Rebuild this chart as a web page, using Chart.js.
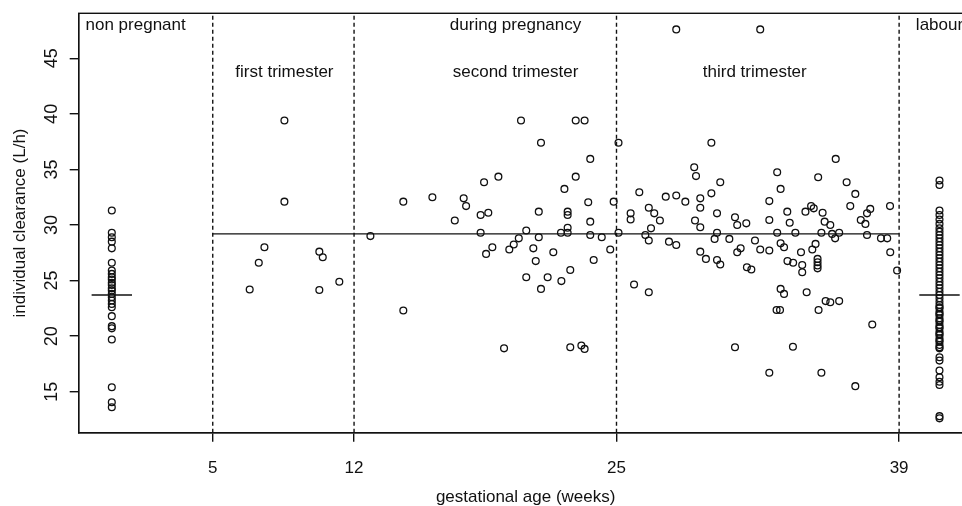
<!DOCTYPE html>
<html><head><meta charset="utf-8">
<script src="https://cdn.jsdelivr.net/npm/chart.js@4"></script>
<style>
html,body{margin:0;padding:0;overflow:hidden;background:#fff;width:962px;height:506px}
#wrap{position:absolute;left:0;top:0;width:1000px;height:506px}
</style></head><body>
<div id="wrap"><canvas id="c" width="1000" height="506"></canvas></div>
<script>
// ---- data ----
const xTicks = [5, 12, 25, 39];
const yTicks = [15, 20, 25, 30, 35, 40, 45];
const xRange = [-1.64, 42.64];
const yRange = [11.31, 49.05];
const periodBoundaries = [5, 12, 25, 39];

const nonPregnantWeek = 0;
const nonPregnantClearance = [31.3, 29.3, 28.9, 28.5, 27.9, 26.6, 25.9, 25.6, 25.3, 25.1, 24.8, 24.6, 24.3, 24.1, 23.8, 23.5, 23.2, 22.9, 22.6, 21.8, 20.9, 20.7, 19.7, 15.4, 14.05, 13.6];
const nonPregnantMean = 23.7;

const labourWeek = 41;
const labourClearance = [34.0, 33.6, 31.3, 30.9, 30.5, 30.1, 29.7, 29.4, 29.1, 28.8, 28.5, 28.2, 27.9, 27.6, 27.3, 27.0, 26.7, 26.4, 26.1, 25.8, 25.5, 25.2, 24.9, 24.6, 24.3, 24.0, 23.7, 23.4, 23.1, 22.8, 22.6, 22.5, 22.2, 22.0, 21.9, 21.6, 21.4, 21.3, 21.0, 20.8, 20.7, 20.4, 20.2, 20.1, 19.8, 19.6, 19.5, 19.2, 19.0, 18.9, 18.1, 17.8, 16.9, 16.3, 15.9, 15.6, 12.8, 12.6];
const labourMean = 23.7;

const pregnancyWeeks = [
  8.55, 8.55, 7.56, 7.28, 6.83, 10.28, 10.45, 11.27, 10.28,
  12.81, 14.44, 14.44, 15.88, 16.99, 17.43, 17.55, 18.27, 18.27, 18.44, 18.65, 18.54, 19.15, 18.85, 20.27, 21.26, 19.43, 20.53, 20.16, 19.91, 19.69, 21.15, 21.15, 20.88, 21.0, 21.87, 20.53, 21.59, 21.26, 22.27, 22.71, 22.25, 22.58, 22.58, 22.58, 22.58, 22.42, 22.98, 22.98, 23.42, 23.7, 23.6, 23.7, 23.7, 24.27, 24.69, 23.87, 22.71, 23.26, 23.42, 24.86,
  25.1, 25.1, 27.96, 32.12, 29.7, 28.85, 28.94, 30.14, 26.13, 27.44, 27.96, 28.41, 29.15, 29.7, 25.7, 25.7, 26.6, 26.87, 27.15, 26.71, 29.15, 28.89, 29.15, 29.98, 30.87, 30.98, 31.43, 26.43, 26.6, 27.6, 27.96, 29.86, 29.98, 30.59, 31.86, 32.12, 29.15, 29.43, 29.98, 30.14, 30.98, 31.15, 31.46, 31.68, 25.87, 26.6, 30.87,
  35.86, 32.96, 34.99, 33.13, 36.4, 36.83, 32.57, 36.58, 38.55, 33.46, 34.36, 34.64, 34.77, 35.21, 37.57, 37.41, 32.57, 33.58, 35.31, 35.59, 37.1, 37.33, 32.96, 33.86, 35.15, 35.68, 36.03, 35.83, 37.41, 38.1, 38.41, 32.57, 33.13, 33.3, 34.86, 34.7, 34.14, 38.56, 33.47, 33.75, 34.2, 34.2, 34.96, 34.96, 34.96, 34.96, 38.9, 33.13, 33.3, 34.42, 35.36, 35.59, 36.03, 35.01, 32.93, 33.1, 37.67, 33.74, 32.57, 35.15, 36.83
];
const pregnancyClearance = [
  39.4, 32.1, 28.0, 26.6, 24.2, 27.6, 27.1, 24.9, 24.15,
  29.0, 32.1, 22.3, 32.5, 30.4, 32.4, 31.7, 30.9, 29.3, 33.85, 31.1, 27.4, 34.35, 28.0, 39.4, 37.4, 18.9, 29.5, 28.8, 28.25, 27.8, 31.2, 28.9, 27.9, 26.75, 27.55, 25.3, 25.3, 24.25, 24.95, 25.95, 29.3, 31.2, 30.9, 29.75, 29.3, 33.25, 34.35, 39.4, 39.4, 35.95, 32.05, 30.3, 29.1, 28.9, 27.8, 26.85, 19.0, 19.15, 18.85, 32.1,
  37.4, 29.3, 47.6, 47.6, 37.4, 35.2, 34.4, 33.85, 32.95, 32.55, 32.65, 32.1, 32.4, 32.85, 31.05, 30.5, 31.55, 31.05, 30.4, 29.7, 31.55, 30.4, 29.8, 31.05, 30.7, 30.0, 30.15, 29.1, 28.6, 28.5, 28.2, 28.75, 29.3, 28.75, 28.6, 27.8, 27.6, 26.95, 26.85, 26.45, 27.55, 27.9, 26.2, 26.0, 24.65, 23.95, 19.0,
  35.95, 34.75, 34.3, 33.25, 33.85, 32.8, 32.15, 31.7, 31.7, 31.2, 31.2, 31.7, 31.5, 31.1, 31.45, 31.05, 30.45, 30.2, 30.3, 30.0, 30.45, 30.1, 29.3, 29.3, 29.3, 29.2, 29.3, 28.8, 29.1, 28.8, 28.8, 27.7, 28.35, 28.0, 28.3, 27.8, 27.55, 27.55, 26.75, 26.6, 26.4, 25.75, 26.95, 26.65, 26.35, 26.1, 25.9, 24.25, 23.8, 23.95, 23.15, 23.05, 23.15, 22.35, 22.35, 22.35, 21.05, 19.05, 16.7, 16.7, 15.5
];
const pregnancyMean = 29.2;

const periodLabels = ["non pregnant", "during pregnancy", "labour"];
const periodLabelWeek = [1.18, 20, 41];
const trimesterLabels = ["first trimester", "second trimester", "third trimester"];
const trimesterLabelWeek = [8.55, 20, 31.85];

// ---- chart ----
const FONT = '"Liberation Sans", Arial, sans-serif';
const points = [];
nonPregnantClearance.forEach(v => points.push({x: nonPregnantWeek, y: v}));
pregnancyWeeks.forEach((w, i) => points.push({x: w, y: pregnancyClearance[i]}));
labourClearance.forEach(v => points.push({x: labourWeek, y: v}));

const lineStyle = {showLine: true, pointRadius: 0, borderColor: '#111', borderWidth: 1.4, fill: false};
const datasets = [];
periodBoundaries.forEach(b => datasets.push(Object.assign({
  data: [{x: b, y: yRange[0]}, {x: b, y: yRange[1]}], borderDash: [4, 3]
}, lineStyle)));
datasets.push(Object.assign({data: [{x: periodBoundaries[0], y: pregnancyMean}, {x: periodBoundaries[3], y: pregnancyMean}]}, lineStyle));
datasets.push(Object.assign({data: [{x: nonPregnantWeek - 1, y: nonPregnantMean}, {x: nonPregnantWeek + 1, y: nonPregnantMean}]}, lineStyle));
datasets.push(Object.assign({data: [{x: labourWeek - 1, y: labourMean}, {x: labourWeek + 1, y: labourMean}]}, lineStyle));
datasets.push({
  data: points, pointStyle: 'circle', pointRadius: 3.4, pointBorderWidth: 1.3,
  pointBorderColor: '#111', pointBackgroundColor: 'rgba(0,0,0,0)', showLine: false
});

const framePlugin = {
  id: 'frame',
  afterDraw(chart) {
    const {ctx, chartArea: a, scales: {x, y}} = chart;
    ctx.save();
    ctx.strokeStyle = '#111';
    ctx.lineWidth = 1.4;
    ctx.strokeRect(a.left, a.top, a.right - a.left, a.bottom - a.top);
    ctx.fillStyle = '#111';
    ctx.font = '17px ' + FONT;
    ctx.textAlign = 'center';
    ctx.textBaseline = 'middle';
    periodLabels.forEach((t, i) => ctx.fillText(t, x.getPixelForValue(periodLabelWeek[i]), y.getPixelForValue(48.0)));
    trimesterLabels.forEach((t, i) => ctx.fillText(t, x.getPixelForValue(trimesterLabelWeek[i]), y.getPixelForValue(43.7)));
    ctx.restore();
  }
};

new Chart(document.getElementById('c'), {
  type: 'scatter',
  data: {datasets},
  plugins: [framePlugin],
  options: {
    responsive: false,
    animation: false,
    devicePixelRatio: 1,
    layout: {padding: {left: 0, right: 27.4, top: 13.3, bottom: 0}},
    plugins: {legend: {display: false}, tooltip: {enabled: false}},
    scales: {
      x: {
        type: 'linear', min: xRange[0], max: xRange[1],
        afterBuildTicks: s => { s.ticks = xTicks.map(v => ({value: v})); },
        afterFit: s => { s.height = 73.3; s.paddingLeft = 0; s.paddingRight = 0; },
        grid: {display: true, drawOnChartArea: false, drawTicks: true, tickLength: 9, color: '#111', lineWidth: 1.4},
        border: {display: true, color: '#111', width: 1.4},
        ticks: {color: '#111', font: {family: FONT, size: 17}, padding: 16, maxRotation: 0, autoSkip: false, callback: v => String(v)},
        title: {display: true, text: 'gestational age (weeks)', color: '#111', font: {family: FONT, size: 17, lineHeight: 1}, padding: {top: 0, bottom: 0.5}}
      },
      y: {
        type: 'linear', min: yRange[0], max: yRange[1],
        afterBuildTicks: s => { s.ticks = yTicks.map(v => ({value: v})); },
        afterFit: s => { s.width = 78.7; s.paddingTop = 0; s.paddingBottom = 0; },
        grid: {display: true, drawOnChartArea: false, drawTicks: true, tickLength: 9, color: '#111', lineWidth: 1.4},
        border: {display: true, color: '#111', width: 1.4},
        ticks: {color: '#111', font: {family: FONT, size: 18}, padding: 7.5, minRotation: 90, maxRotation: 90, crossAlign: 'center', autoSkip: false, callback: v => String(v)},
        title: {display: true, text: 'individual clearance (L/h)', color: '#111', font: {family: FONT, size: 17, lineHeight: 1.2}, padding: {top: 9.8, bottom: 0}}
      }
    }
  }
});
</script>
</body></html>
